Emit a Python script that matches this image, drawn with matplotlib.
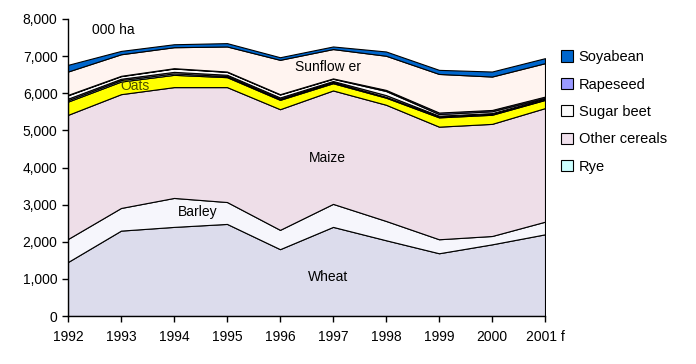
"""Stacked area chart of crop areas, 1992-2001 (000 ha)."""

import matplotlib

matplotlib.use("Agg")
import matplotlib.pyplot as plt
from matplotlib.patches import Patch
from matplotlib.ticker import FuncFormatter

plt.rcParams["font.family"] = ["Liberation Sans", "DejaVu Sans"]

YEARS = [1992, 1993, 1994, 1995, 1996, 1997, 1998, 1999, 2000, 2001]
YEAR_LABELS = ["1992", "1993", "1994", "1995", "1996", "1997", "1998", "1999", "2000", "2001 f"]

# stack order, bottom to top
WHEAT = [1455, 2300, 2400, 2480, 1800, 2400, 2040, 1690, 1930, 2200]
BARLEY = [620, 610, 780, 590, 520, 620, 520, 377, 225, 340]
MAIZE = [3343, 3065, 2985, 3095, 3250, 3055, 3130, 3033, 3020, 3060]
OATS = [357, 340, 331, 268, 252, 195, 190, 250, 245, 220]
RYE = [40, 40, 40, 30, 30, 30, 25, 20, 20, 15]
OTHER_CEREALS = [40, 35, 40, 35, 35, 30, 45, 25, 25, 15]
SUGAR_BEET = [90, 70, 90, 77, 78, 60, 110, 45, 50, 25]
RAPESEED = [12, 10, 9, 10, 10, 10, 30, 40, 35, 35]
SUNFLOWER = [628, 580, 565, 675, 925, 790, 920, 1040, 900, 900]
SOYABEAN = [180, 90, 80, 90, 70, 70, 115, 110, 135, 135]

SERIES = [
    ("Wheat", WHEAT, "#dcdcec"),
    ("Barley", BARLEY, "#f6f6fc"),
    ("Maize", MAIZE, "#eedee8"),
    ("Oats", OATS, "#ffff00"),
    ("Rye", RYE, "#ccffff"),
    ("Other cereals", OTHER_CEREALS, "#f0e0ec"),
    ("Sugar beet", SUGAR_BEET, "#fbfbfb"),
    ("Rapeseed", RAPESEED, "#9999ff"),
    ("Sunflower", SUNFLOWER, "#fff4f0"),
    ("Soyabean", SOYABEAN, "#0066cc"),
]
LEGEND_NAMES = ["Soyabean", "Rapeseed", "Sugar beet", "Other cereals", "Rye"]


def main() -> None:
    fig = plt.figure(figsize=(6.96, 3.64), dpi=100)
    ax = fig.add_axes([68 / 696, 48 / 364, (545 - 68) / 696, (316 - 19) / 364])

    ax.stackplot(
        YEARS,
        *[values for _, values, _ in SERIES],
        colors=[color for _, _, color in SERIES],
        edgecolor="black",
        linewidth=0.8,
    )

    ax.set_xlim(YEARS[0], YEARS[-1])
    ax.set_ylim(0, 8000)
    ax.set_yticks(range(0, 8001, 1000))
    ax.yaxis.set_major_formatter(FuncFormatter(lambda v, _: f"{int(v):,}"))
    ax.set_xticks(YEARS)
    ax.set_xticklabels(YEAR_LABELS)
    ax.tick_params(axis="both", labelsize=10, direction="out", length=4, width=1, colors="black")
    ax.tick_params(axis="x", pad=6)
    for side in ("top", "right"):
        ax.spines[side].set_visible(False)
    for side in ("left", "bottom"):
        ax.spines[side].set_linewidth(1.0)

    # inline labels
    ax.text(1992.45, 7700, "000 ha", fontsize=10, ha="left", va="center")
    ax.text(1996.9, 6700, "Sunflow er", fontsize=10, ha="center", va="center")
    ax.text(1993.27, 6200, "Oats", fontsize=10, ha="center", va="center", color="#4d4d00")
    ax.text(1996.9, 4260, "Maize", fontsize=10, ha="center", va="center")
    ax.text(1994.45, 2800, "Barley", fontsize=10, ha="center", va="center")
    ax.text(1996.9, 1050, "Wheat", fontsize=10, ha="center", va="center")

    colors = {name: color for name, _, color in SERIES}
    handles = [Patch(facecolor=colors[n], edgecolor="black", linewidth=0.8, label=n) for n in LEGEND_NAMES]
    fig.legend(
        handles=handles,
        loc="upper left",
        bbox_to_anchor=(548 / 696, 1 - 37 / 364),
        frameon=False,
        fontsize=10.5,
        handlelength=0.8,
        handleheight=0.8,
        handletextpad=0.4,
        labelspacing=0.92,
    )

    fig.savefig("out.png", dpi=100)
    plt.close(fig)


if __name__ == "__main__":
    main()
